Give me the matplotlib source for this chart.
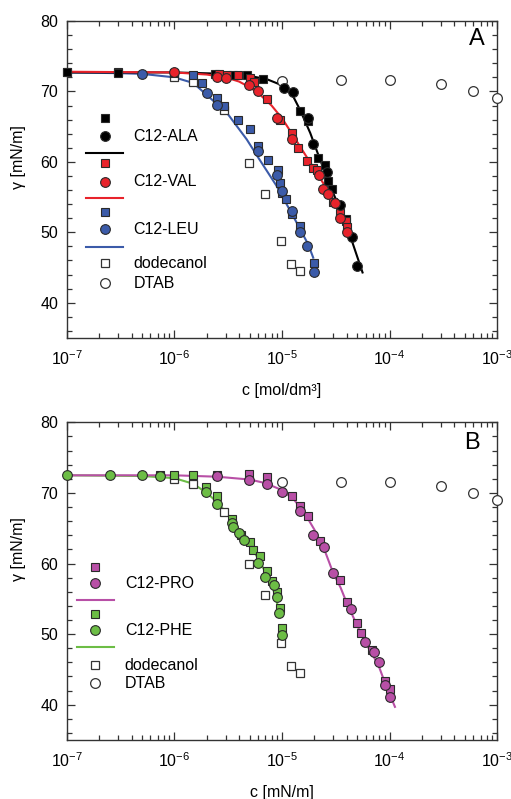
import matplotlib

matplotlib.use("Agg")
import matplotlib.pyplot as plt
from matplotlib.ticker import LogLocator, MultipleLocator, NullFormatter

plt.rcParams["font.family"] = ["Liberation Sans", "DejaVu Sans"]
plt.rcParams["mathtext.fontset"] = "custom"
plt.rcParams["mathtext.rm"] = "Liberation Sans"
plt.rcParams["mathtext.it"] = "Liberation Sans:italic"
plt.rcParams["mathtext.bf"] = "Liberation Sans:bold"
plt.rcParams["axes.unicode_minus"] = False

# ---- data (c in mol/dm3, gamma in mN/m) ----
dodecanol_c = [1e-6, 1.5e-6, 2.9e-6, 4.9e-6, 7.0e-6, 9.8e-6, 1.2e-5, 1.47e-5]
dodecanol_g = [72.0, 71.3, 67.3, 59.9, 55.5, 48.8, 45.5, 44.5]

dtab_c = [1e-5, 3.5e-5, 1e-4, 3e-4, 6e-4, 1e-3]
dtab_g = [71.5, 71.6, 71.6, 71.0, 70.0, 69.0]

# panel A
ala_sq_c = [1e-7, 3e-7, 1e-6, 2.4e-6, 3.5e-6, 4.7e-6, 6.7e-6, 1.47e-5, 1.75e-5,
            2.17e-5, 2.5e-5, 2.7e-5, 2.9e-5, 3.9e-5]
ala_sq_g = [72.7, 72.6, 72.6, 72.5, 72.4, 72.4, 71.7, 67.2, 65.8,
            60.6, 59.6, 57.3, 56.2, 51.9]
ala_ci_c = [1.05e-5, 1.27e-5, 1.75e-5, 1.95e-5, 2.6e-5, 3.46e-5, 4.43e-5, 4.94e-5]
ala_ci_g = [70.5, 69.9, 66.2, 62.5, 58.5, 53.9, 49.3, 45.2]
ala_fit_c = [1e-7, 1e-6, 3e-6, 5e-6, 7.2e-6, 1.03e-5, 1.27e-5, 1.47e-5, 1.83e-5,
             2.26e-5, 2.8e-5, 3.46e-5, 4.3e-5, 5.6e-5]
ala_fit_g = [72.7, 72.7, 72.5, 72.2, 71.75, 70.8, 69.3, 67.4, 64.1,
             60.3, 56.6, 53.3, 49.5, 44.3]

val_sq_c = [2.6e-6, 3.1e-6, 3.9e-6, 5.0e-6, 5.5e-6, 7.2e-6, 9.5e-6, 1.23e-5, 1.41e-5,
            1.70e-5, 1.95e-5, 2.1e-5, 3.0e-5, 3.46e-5, 3.9e-5, 4.0e-5]
val_sq_g = [72.5, 72.4, 72.4, 71.9, 71.3, 68.9, 66.0, 64.1, 62.0,
            60.1, 59.2, 58.9, 54.3, 52.8, 51.6, 50.7]
val_ci_c = [1e-6, 2.5e-6, 3.0e-6, 4.9e-6, 6.0e-6, 9.0e-6, 1.23e-5, 2.2e-5, 2.4e-5,
            2.7e-5, 3.1e-5, 3.46e-5, 4.0e-5]
val_ci_g = [72.8, 72.0, 71.9, 70.9, 70.0, 66.2, 63.2, 58.2, 56.1,
            55.4, 54.1, 52.1, 50.1]
val_fit_c = [1e-7, 1e-6, 2e-6, 3e-6, 4e-6, 5e-6, 6e-6, 8e-6, 1e-5, 1.3e-5, 1.6e-5,
             2e-5, 2.5e-5, 3e-5, 3.5e-5, 4.4e-5]
val_fit_g = [72.8, 72.7, 72.4, 72.0, 71.4, 70.6, 69.8, 68.0, 66.2, 63.5, 61.3,
             59.0, 56.6, 54.7, 52.9, 49.7]

leu_sq_c = [1e-7, 3e-7, 1.5e-6, 1.8e-6, 2.5e-6, 2.9e-6, 3.9e-6, 5.0e-6, 6.0e-6,
            7.4e-6, 9.2e-6, 9.5e-6, 9.9e-6, 1.1e-5, 1.25e-5, 1.47e-5, 2.0e-5]
leu_sq_g = [72.7, 72.7, 72.4, 71.2, 69.1, 68.0, 66.0, 64.6, 62.2,
            60.3, 58.9, 57.0, 55.6, 54.7, 52.6, 50.9, 45.7]
leu_ci_c = [5e-7, 2.0e-6, 2.5e-6, 6.0e-6, 9.0e-6, 9.9e-6, 1.25e-5, 1.47e-5, 1.72e-5, 2.0e-5]
leu_ci_g = [72.5, 69.8, 68.1, 61.5, 58.2, 55.9, 53.0, 50.0, 48.1, 44.3]
leu_fit_c = [1e-7, 3e-7, 5e-7, 1e-6, 1.5e-6, 2e-6, 3.1e-6, 4.7e-6, 6.2e-6, 8.9e-6,
             1.27e-5, 1.75e-5, 1.95e-5]
leu_fit_g = [72.7, 72.6, 72.5, 72.0, 71.2, 69.5, 66.9, 63.2, 60.3, 56.6,
             52.3, 48.3, 46.4]

# panel B
pro_sq_c = [2.5e-6, 4.9e-6, 7.2e-6, 1.24e-5, 1.47e-5, 1.75e-5, 2.25e-5, 3.46e-5,
            4.0e-5, 4.94e-5, 5.4e-5, 6.8e-5, 9.0e-5, 1e-4]
pro_sq_g = [72.6, 72.7, 72.3, 69.5, 68.2, 66.7, 63.2, 57.7,
            54.6, 51.6, 50.2, 47.8, 43.4, 42.2]
pro_ci_c = [2.5e-6, 4.9e-6, 7.2e-6, 1e-5, 1.47e-5, 1.95e-5, 2.45e-5, 2.95e-5,
            4.4e-5, 5.9e-5, 7.1e-5, 7.9e-5, 9.1e-5, 1e-4]
pro_ci_g = [72.4, 71.9, 71.3, 70.2, 67.4, 64.1, 62.3, 58.6,
            53.5, 48.9, 47.4, 46.1, 42.8, 41.1]
pro_fit_c = [1e-7, 1e-6, 2.5e-6, 5e-6, 7e-6, 1e-5, 1.3e-5, 1.6e-5, 2e-5, 2.5e-5,
             3e-5, 3.5e-5, 4e-5, 5e-5, 6e-5, 7e-5, 8e-5, 9e-5, 1e-4, 1.12e-4]
pro_fit_g = [72.5, 72.5, 72.3, 71.9, 71.4, 70.4, 69.0, 67.3, 64.8, 61.8,
             58.6, 56.6, 54.4, 51.2, 48.7, 47.0, 45.3, 43.2, 41.5, 39.7]

phe_sq_c = [7.4e-7, 1e-6, 1.5e-6, 1.95e-6, 2.5e-6, 3.4e-6, 4.2e-6, 5.0e-6, 5.4e-6,
            6.2e-6, 7.2e-6, 8.0e-6, 8.9e-6, 9.5e-6, 1.0e-5]
phe_sq_g = [72.6, 72.5, 72.5, 70.9, 69.5, 66.3, 64.1, 63.1, 61.9,
            61.0, 58.9, 57.5, 56.0, 53.7, 50.9]
phe_ci_c = [1e-7, 2.5e-7, 5e-7, 7.4e-7, 1.95e-6, 2.5e-6, 3.4e-6, 3.5e-6, 4.0e-6,
            4.4e-6, 6.0e-6, 7.0e-6, 8.4e-6, 9.0e-6, 9.4e-6, 1.0e-5]
phe_ci_g = [72.5, 72.6, 72.6, 72.4, 70.1, 68.5, 65.7, 65.2, 64.3,
            63.3, 60.1, 58.1, 57.0, 55.2, 53.0, 49.9]
phe_fit_c = [1e-7, 5e-7, 1e-6, 1.5e-6, 2e-6, 2.5e-6, 3e-6, 4e-6, 5e-6, 6e-6,
             7e-6, 8e-6, 8.6e-6, 9.2e-6]
phe_fit_g = [72.5, 72.4, 72.1, 71.3, 70.0, 68.7, 67.3, 64.8, 62.7, 60.7,
             58.8, 57.0, 55.6, 53.8]

BLACK = "#000000"
RED = "#e8232b"
BLUE = "#3b5ba9"
MAGENTA = "#b84fa6"
GREEN = "#6cbd45"
EDGE = "#2a2a2a"
FONT = 11.5


def style_axes(ax, xlabel):
    ax.set_xscale("log")
    ax.set_xlim(1e-7, 1e-3)
    ax.set_ylim(35, 80)
    ax.xaxis.set_major_locator(LogLocator(base=10, numticks=10))
    ax.xaxis.set_minor_locator(LogLocator(base=10, subs=range(2, 10), numticks=50))
    ax.xaxis.set_minor_formatter(NullFormatter())
    ax.yaxis.set_major_locator(MultipleLocator(10))
    ax.yaxis.set_minor_locator(MultipleLocator(2))
    ax.tick_params(which="both", direction="in", top=True, right=True,
                   color="#333333", width=0.9, labelsize=FONT)
    ax.tick_params(which="major", length=6)
    ax.tick_params(which="minor", length=3.5)
    ax.tick_params(axis="x", which="major", pad=8)
    ax.tick_params(axis="y", which="major", pad=6)
    for spine in ax.spines.values():
        spine.set_linewidth(1.0)
        spine.set_color("#333333")
    ax.set_xlabel(xlabel, fontsize=FONT)
    ax.xaxis.set_label_coords(0.5, -0.142)


def draw_series(ax, sq_c, sq_g, ci_c, ci_g, fit_c, fit_g, color):
    ax.plot(fit_c, fit_g, color=color, lw=1.5, zorder=2)
    ax.plot(sq_c, sq_g, ls="none", marker="s", ms=6.3, mfc=color, mec=EDGE,
            mew=0.8, zorder=3, clip_on=False)
    ax.plot(ci_c, ci_g, ls="none", marker="o", ms=7, mfc=color, mec=EDGE,
            mew=0.8, zorder=4, clip_on=False)


def draw_reference(ax):
    ax.plot(dodecanol_c, dodecanol_g, ls="none", marker="s", ms=6.3, mfc="white",
            mec="#333333", mew=0.9, zorder=3, clip_on=False)
    ax.plot(dtab_c, dtab_g, ls="none", marker="o", ms=7, mfc="white",
            mec="#333333", mew=0.9, zorder=3, clip_on=False)


def draw_key(ax, entries, mx, line_x, text_x, rows):
    """Hand-made key: square above circle above line, label beside the circle."""
    t = ax.transAxes
    for (name, color), (y_sq, y_ci, y_ln) in zip(entries, rows):
        ax.plot([mx], [y_sq], transform=t, marker="s", ms=6, mfc=color,
                mec=EDGE, mew=0.8, clip_on=False)
        ax.plot([mx], [y_ci], transform=t, marker="o", ms=7, mfc=color,
                mec=EDGE, mew=0.8, clip_on=False)
        ax.plot(line_x, [y_ln, y_ln], transform=t, color=color, lw=1.5)
        ax.text(text_x, y_ci, name, transform=t, fontsize=FONT, va="center")


def draw_open_key(ax, mx, text_x, y_dod, y_dtab):
    t = ax.transAxes
    ax.plot([mx], [y_dod], transform=t, marker="s", ms=6, mfc="white",
            mec="#333333", mew=0.9)
    ax.plot([mx], [y_dtab], transform=t, marker="o", ms=7, mfc="white",
            mec="#333333", mew=0.9)
    ax.text(text_x, y_dod, "dodecanol", transform=t, fontsize=FONT, va="center")
    ax.text(text_x, y_dtab, "DTAB", transform=t, fontsize=FONT, va="center")


def main():
    fig = plt.figure(figsize=(5.11, 7.99), dpi=100)
    ax_a = fig.add_axes([0.1305, 0.577, 0.8427, 0.3967])
    ax_b = fig.add_axes([0.1305, 0.0738, 0.8427, 0.3976])

    # panel A
    draw_reference(ax_a)
    draw_series(ax_a, leu_sq_c, leu_sq_g, leu_ci_c, leu_ci_g, leu_fit_c, leu_fit_g, BLUE)
    draw_series(ax_a, ala_sq_c, ala_sq_g, ala_ci_c, ala_ci_g, ala_fit_c, ala_fit_g, BLACK)
    draw_series(ax_a, val_sq_c, val_sq_g, val_ci_c, val_ci_g, val_fit_c, val_fit_g, RED)
    style_axes(ax_a, "c [mol/dm³]")
    ax_a.set_ylabel("γ [mN/m]", fontsize=FONT)
    ax_a.yaxis.set_label_coords(-0.095, 0.57)
    ax_a.text(0.952, 0.942, "A", transform=ax_a.transAxes, fontsize=17,
              ha="center", va="center")
    draw_key(ax_a, [("C12-ALA", BLACK), ("C12-VAL", RED), ("C12-LEU", BLUE)],
             0.089, [0.045, 0.131], 0.155,
             [(0.693, 0.637, 0.585), (0.551, 0.493, 0.441), (0.398, 0.343, 0.288)])
    draw_open_key(ax_a, 0.089, 0.155, 0.236, 0.173)

    # panel B
    draw_reference(ax_b)
    draw_series(ax_b, phe_sq_c, phe_sq_g, phe_ci_c, phe_ci_g, phe_fit_c, phe_fit_g, GREEN)
    draw_series(ax_b, pro_sq_c, pro_sq_g, pro_ci_c, pro_ci_g, pro_fit_c, pro_fit_g, MAGENTA)
    style_axes(ax_b, "c [mN/m]")
    ax_b.set_ylabel("γ [mN/m]", fontsize=FONT)
    ax_b.yaxis.set_label_coords(-0.095, 0.6)
    ax_b.text(0.94, 0.934, "B", transform=ax_b.transAxes, fontsize=17,
              ha="center", va="center")
    draw_key(ax_b, [("C12-PRO", MAGENTA), ("C12-PHE", GREEN)],
             0.066, [0.023, 0.111], 0.135,
             [(0.546, 0.493, 0.441), (0.397, 0.346, 0.294)])
    draw_open_key(ax_b, 0.066, 0.135, 0.236, 0.179)

    fig.savefig("out.png", dpi=100)
    plt.close(fig)


if __name__ == "__main__":
    main()
